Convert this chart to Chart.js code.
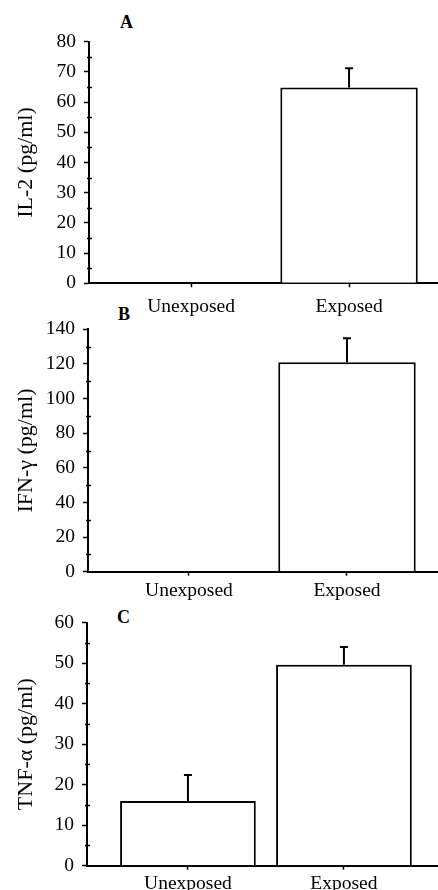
<!DOCTYPE html>
<html>
<head>
<meta charset="utf-8">
<script src="https://cdn.jsdelivr.net/npm/chart.js@4"></script>
<style>
  body { margin: 0; background: #fff; width: 438px; height: 890px; position: relative; overflow: hidden; }
  canvas { position: absolute; left: 0; }
  .letter { position: absolute; font: bold 18px "Liberation Serif", serif; line-height: 18px; color: #000; }
</style>
</head>
<body>
<div class="letter" style="left:120px;top:13px">A</div>
<div class="letter" style="left:118px;top:305px">B</div>
<div class="letter" style="left:117px;top:608px">C</div>
<canvas id="chartA" width="438" height="320" style="top:0px"></canvas>
<canvas id="chartB" width="438" height="320" style="top:290px"></canvas>
<canvas id="chartC" width="438" height="310" style="top:580px"></canvas>
<script>
// groups on the x axis
const categories = ["Unexposed", "Exposed"];

// cytokine levels (pg/ml), mean and upper error
const il2Values = [0, 64.8];
const il2Errors = [0, 6.4];
const ifnValues = [0, 121];
const ifnErrors = [0, 13.8];
const tnfValues = [16, 49.6];
const tnfErrors = [6.4, 4.4];

const axisTitles = ["IL-2 (pg/ml)", "IFN-\u03b3 (pg/ml)", "TNF-\u03b1 (pg/ml)"];

const serif = '"Liberation Serif", "Times New Roman", serif';
const tickFont = { family: serif, size: 19.5 };
const titleFont = { family: serif, size: 22 };

// upward error bars with a short cap
const errorBars = {
  id: 'errorBars',
  afterDatasetsDraw(chart, args, opts) {
    const ctx = chart.ctx;
    const y = chart.scales.y;
    const meta = chart.getDatasetMeta(0);
    const data = chart.data.datasets[0].data;
    ctx.save();
    ctx.strokeStyle = '#000';
    ctx.lineWidth = 2;
    meta.data.forEach((bar, i) => {
      const e = opts.errors[i];
      if (!e) return;
      const top = y.getPixelForValue(data[i].y + e);
      ctx.beginPath();
      ctx.moveTo(bar.x, bar.y);
      ctx.lineTo(bar.x, top);
      ctx.moveTo(bar.x - 4, top);
      ctx.lineTo(bar.x + 4, top);
      ctx.stroke();
    });
    ctx.restore();
  }
};

// small unlabeled ticks between the labeled ones
const minorTicks = {
  id: 'minorTicks',
  afterDraw(chart, args, opts) {
    const ctx = chart.ctx;
    const y = chart.scales.y;
    const x0 = chart.chartArea.left;
    ctx.save();
    ctx.strokeStyle = '#000';
    ctx.lineWidth = 1.5;
    for (let v = opts.step; v < y.max; v += opts.step) {
      if (v % opts.labelStep === 0) continue;
      const py = Math.round(y.getPixelForValue(v)) + 0.5;
      ctx.beginPath();
      ctx.moveTo(x0 - 2, py);
      ctx.lineTo(x0 + 3, py);
      ctx.stroke();
    }
    ctx.restore();
  }
};

function tekenPaneel(id, values, errors, title, p) {
  new Chart(document.getElementById(id), {
    type: 'bar',
    data: {
      datasets: [{
        data: values.map((v, i) => ({ x: i, y: v })),
        backgroundColor: '#fff',
        borderColor: '#000',
        borderWidth: 2,
        barPercentage: 0.87,
        categoryPercentage: 1
      }]
    },
    options: {
      responsive: false,
      animation: false,
      layout: { padding: { top: p.padTop, left: 0, right: 0, bottom: 0 } },
      plugins: {
        legend: { display: false },
        tooltip: { enabled: false },
        errorBars: { errors: errors },
        minorTicks: { step: p.minorStep, labelStep: p.labelStep }
      },
      scales: {
        x: {
          type: 'linear',
          min: p.xMin, max: p.xMax,
          offset: false,
          afterFit: s => { s.height = p.xHeight; },
          afterBuildTicks: s => { s.ticks = categories.map((c, i) => ({ value: i })); },
          ticks: {
            callback: v => categories[v] ?? '',
            padding: p.labelPad, maxRotation: 0, autoSkip: false,
            color: '#000', font: tickFont
          },
          grid: { drawOnChartArea: false, offset: false, tickLength: 4, color: '#000', tickWidth: 1.5 },
          border: { color: '#000', width: 2 }
        },
        y: {
          min: 0, max: p.yMax,
          afterFit: s => { s.width = p.axisX; },
          ticks: { stepSize: p.labelStep, padding: 8, color: '#000', font: tickFont },
          grid: { drawOnChartArea: false, tickLength: 5, color: '#000', tickWidth: 1.5 },
          border: { color: '#000', width: 2 },
          title: { display: true, text: title, color: '#000', font: titleFont, padding: { top: 13, bottom: 0 } }
        }
      }
    },
    plugins: [errorBars, minorTicks]
  });
}

tekenPaneel('chartA', il2Values, il2Errors, axisTitles[0],
  { axisX: 89, padTop: 41.7, xHeight: 36.7, yMax: 80, labelStep: 10, minorStep: 5, xMin: -0.646, xMax: 1.563, labelPad: 8 });
tekenPaneel('chartB', ifnValues, ifnErrors, axisTitles[1],
  { axisX: 88, padTop: 39.3, xHeight: 38.3, yMax: 140, labelStep: 20, minorStep: 10, xMin: -0.639, xMax: 1.576, labelPad: 3 });
tekenPaneel('chartC', tnfValues, tnfErrors, axisTitles[2],
  { axisX: 87, padTop: 42.7, xHeight: 24.3, yMax: 60, labelStep: 10, minorStep: 5, xMin: -0.647, xMax: 1.603, labelPad: 2 });
</script>
</body>
</html>
